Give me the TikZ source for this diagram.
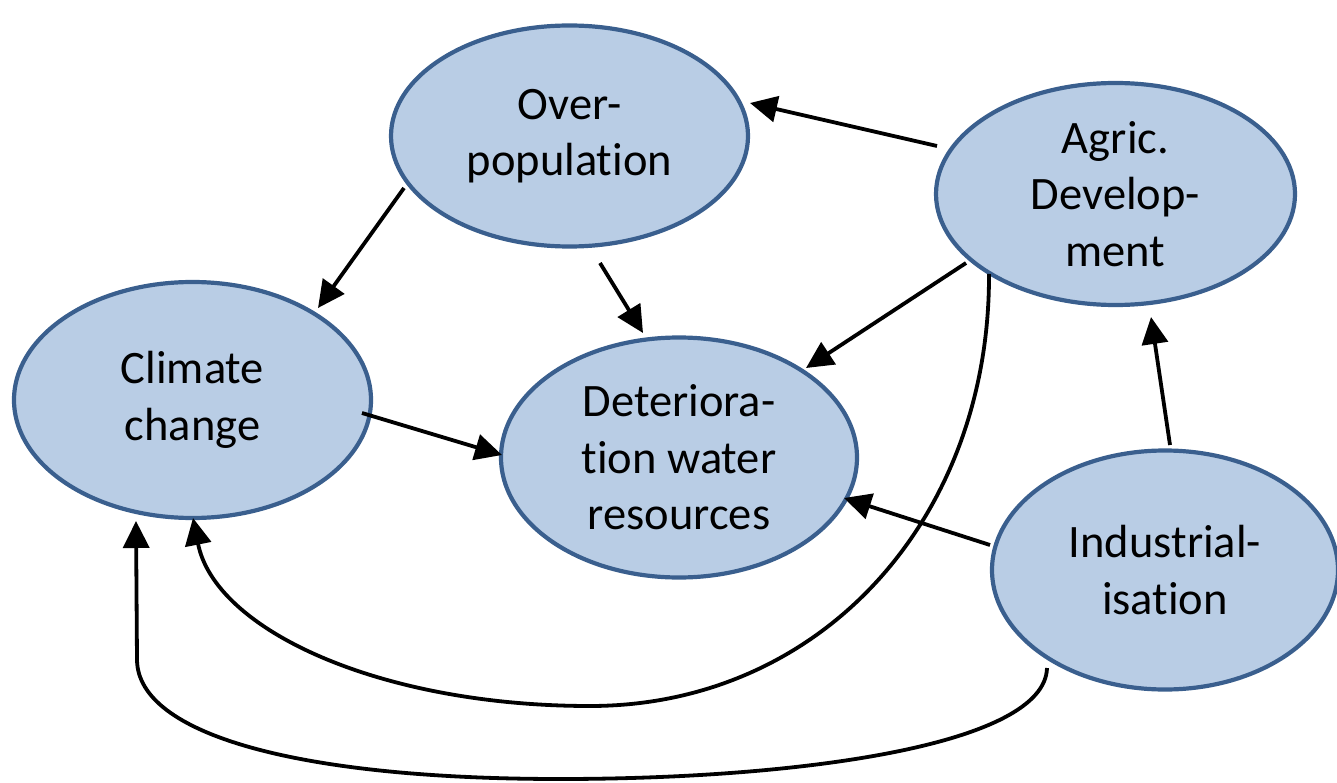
\documentclass[tikz,border=0pt]{standalone}
\usepackage{fontspec}
\setmainfont{Carlito}[RawFeature={-liga}]
\usetikzlibrary{arrows.meta,calc,shapes.geometric}
\definecolor{efill}{HTML}{B9CDE5}
\definecolor{eline}{HTML}{3A5F8E}
\begin{document}
\begin{tikzpicture}[x=1pt,y=-1pt,
  bubble/.style={ellipse,draw=eline,fill=efill,line width=4.2pt,inner sep=0pt,
    align=center,font=\fontsize{46.5}{56.5}\selectfont},
  arr/.style={line width=3.8pt,-{Triangle[length=27pt,width=26pt]}},
  curvearr/.style={line width=3.8pt,-{Triangle[length=27pt,width=26pt]}}]
\useasboundingbox (0,0) rectangle (1337,783);
% nodes
\node[bubble,minimum width=357pt,minimum height=221pt] (ovp) at (569.5,136) {Over-\\population};
\node[bubble,minimum width=359pt,minimum height=222pt] (agr) at (1115.5,194) {Agric.\\Develop-\\ment};
\node[bubble,minimum width=357pt,minimum height=236pt] (clc) at (192.5,400) {Climate\\change};
\node[bubble,minimum width=356pt,minimum height=240pt] (det) at (679,457.5) {Deteriora-\\tion water\\resources};
\node[bubble,minimum width=346pt,minimum height=239pt] (ind) at (1165,570) {Industrial-\\isation};
% straight connectors
\draw[arr] ($(agr)+(-178.5,-48)$) -- ($(ovp)+(180.5,-33)$);
\draw[arr] ($(ovp)+(-165.5,52)$) -- ($(clc)+(125.5,-92)$);
\draw[arr] ($(ovp)+(30.5,127)$) -- ($(det)+(-36,-124.5)$);
\draw[arr] ($(agr)+(-149.5,69)$) -- ($(det)+(127,-89.5)$);
\draw[arr] ($(clc)+(169.5,13)$) -- ($(det)+(-177,-2.5)$);
\draw[arr] ($(ind)+(5,-125)$) -- ($(agr)+(35.5,123)$);
\draw[arr] ($(ind)+(-175,-25)$) -- ($(det)+(165,40.5)$);
% curved connectors
\draw[curvearr] ($(agr)+(-126.5,80)$) .. controls (990,520) and (820,706) .. (590,706)
  .. controls (380,706) and (215,630) .. ($(clc)+(0.5,118)$);
\draw[curvearr] ($(ind)+(-118,98)$) .. controls (1045,745) and (800,779) .. (560,779)
  .. controls (300,779) and (138,735) .. (137,660) -- ($(clc)+(-56.5,121)$);
\end{tikzpicture}
\end{document}
